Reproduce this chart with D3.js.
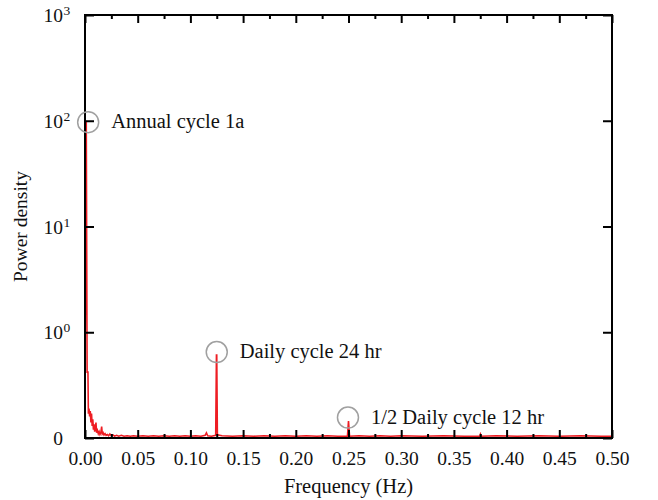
<!DOCTYPE html>
<html lang="en">

<head>
    <meta charset="UTF-8">
    <title>Power spectrum</title>
    <!-- D3.js library for drawing the chart -->
    <script src="https://cdnjs.cloudflare.com/ajax/libs/d3/7.8.5/d3.min.js"></script>
    <style>
        body {
            margin: 0;
            background: white;
        }

        svg text {
            font-family: "Liberation Serif", "Times New Roman", serif;
            fill: #111;
        }
    </style>
</head>

<body>
    <div id="chart"></div>

    <script>
        // Frequencies (Hz) of the spectrum
        var freqs = [
            0.0000, 0.0012, 0.0020, 0.0028, 0.0032, 0.0038, 0.0044, 0.0050, 0.0056, 0.0062,
            0.0068, 0.0074, 0.0080, 0.0086, 0.0092, 0.0098, 0.0104, 0.0110, 0.0118, 0.0126,
            0.0134, 0.0142, 0.0150, 0.0158, 0.0164, 0.0172, 0.0180, 0.0190, 0.0200, 0.0212,
            0.0224, 0.0236, 0.0250, 0.0265, 0.0280, 0.0300, 0.0320, 0.0345, 0.0370, 0.0400,
            0.0430, 0.0460, 0.0500, 0.0550, 0.0600, 0.0650, 0.0700, 0.0750, 0.0800, 0.0850,
            0.0900, 0.0950, 0.1000, 0.1050, 0.1100, 0.1140, 0.1152, 0.1164, 0.1200, 0.1240,
            0.1247, 0.1250, 0.1256, 0.1300, 0.1400, 0.1500, 0.1600, 0.1700, 0.1800, 0.1900,
            0.2000, 0.2100, 0.2200, 0.2300, 0.2400, 0.2490, 0.2500, 0.2510, 0.2600, 0.2700,
            0.2800, 0.2900, 0.3000, 0.3200, 0.3400, 0.3600, 0.3745, 0.3752, 0.3760, 0.3900,
            0.4100, 0.4300, 0.4500, 0.4700, 0.4900, 0.5000
        ];

        // Power density at each frequency
        var powers = [
            0.42, 100, 0.42, 0.42, 0.17, 0.19, 0.16, 0.18, 0.14, 0.17,
            0.13, 0.15, 0.12, 0.135, 0.115, 0.122, 0.14, 0.112, 0.118, 0.11,
            0.115, 0.108, 0.112, 0.128, 0.109, 0.112, 0.107, 0.11, 0.106, 0.108,
            0.105, 0.109, 0.105, 0.107, 0.104, 0.106, 0.104, 0.106, 0.104, 0.105,
            0.104, 0.105, 0.104, 0.105, 0.104, 0.105, 0.104, 0.105, 0.104, 0.105,
            0.104, 0.105, 0.104, 0.105, 0.104, 0.106, 0.112, 0.105, 0.104, 0.106,
            0.61, 0.61, 0.107, 0.105, 0.104, 0.105, 0.104, 0.105, 0.104, 0.105,
            0.104, 0.105, 0.104, 0.105, 0.104, 0.104, 0.145, 0.104, 0.105, 0.104,
            0.105, 0.104, 0.105, 0.104, 0.105, 0.104, 0.104, 0.109, 0.104, 0.105,
            0.104, 0.105, 0.104, 0.105, 0.104, 0.104
        ];

        // Tick marks of both axes
        var xMajorTicks = [0, 0.05, 0.10, 0.15, 0.20, 0.25, 0.30, 0.35, 0.40, 0.45, 0.50];
        var xMinorTicks = [0.025, 0.075, 0.125, 0.175, 0.225, 0.275, 0.325, 0.375, 0.425, 0.475];
        var yTickValues = [0.1, 1, 10, 100, 1000];
        var yTickExponents = [null, "0", "1", "2", "3"]; // null -> plain "0" label

        // Circled peaks with their notes
        var noteFreqs = [0.003, 0.125, 0.2495];
        var notePowers = [97, 0.65, 0.156];
        var noteLabels = ["Annual cycle 1a", "Daily cycle 24 hr", "1/2 Daily cycle 12 hr"];

        var width = 658, height = 500;
        var margin = { top: 15, right: 46, bottom: 62, left: 85 };
        var plotW = width - margin.left - margin.right;
        var plotH = height - margin.top - margin.bottom;

        var svg = d3.select("#chart").append("svg")
            .attr("width", width)
            .attr("height", height);

        var g = svg.append("g")
            .attr("transform", `translate(${margin.left},${margin.top})`);

        // Scales: linear frequency, log power (bottom of the axis is labelled 0)
        var x = d3.scaleLinear().domain([0, 0.5]).range([0, plotW]);
        var y = d3.scaleLog().domain([0.1, 1000]).range([plotH, 0]);

        // Spectrum line
        var line = d3.line()
            .x((d, i) => x(freqs[i]))
            .y((d, i) => y(powers[i]));

        g.append("path")
            .datum(powers)
            .attr("fill", "none")
            .attr("stroke", "#ee1d23")
            .attr("stroke-width", 1.6)
            .attr("d", line);

        // Inward-pointing ticks on all four sides
        function styleAxis(sel) {
            sel.select(".domain").remove();
            sel.selectAll(".tick line").attr("stroke", "#000").attr("stroke-width", 2);
        }

        var bottomAxis = g.append("g")
            .attr("transform", `translate(0,${plotH})`)
            .call(d3.axisBottom(x).tickValues(xMajorTicks).tickSize(-8).tickPadding(13)
                .tickFormat(d3.format(".2f")));
        styleAxis(bottomAxis);
        bottomAxis.selectAll("text")
            .attr("fill", "#111")
            .style("font-size", "19.5px")
            .style("font-family", "'Liberation Serif', serif");

        g.append("g")
            .attr("transform", `translate(0,${plotH})`)
            .call(d3.axisBottom(x).tickValues(xMinorTicks).tickSize(-4).tickFormat(""))
            .call(styleAxis);

        g.append("g")
            .call(d3.axisTop(x).tickValues(xMajorTicks).tickSize(-8).tickFormat(""))
            .call(styleAxis);

        g.append("g")
            .call(d3.axisTop(x).tickValues(xMinorTicks).tickSize(-4).tickFormat(""))
            .call(styleAxis);

        g.append("g")
            .call(d3.axisLeft(y).tickValues(yTickValues).tickSize(-9).tickFormat(""))
            .call(styleAxis);

        g.append("g")
            .attr("transform", `translate(${plotW},0)`)
            .call(d3.axisRight(y).tickValues(yTickValues).tickSize(-9).tickFormat(""))
            .call(styleAxis);

        // Plot frame
        g.append("rect")
            .attr("width", plotW)
            .attr("height", plotH)
            .attr("fill", "none")
            .attr("stroke", "#000")
            .attr("stroke-width", 2);

        // Y tick labels: "0" and powers of ten with superscripts
        yTickValues.forEach((v, i) => {
            var ty = y(v) + 7;
            var exp = yTickExponents[i];
            g.append("text")
                .attr("x", -22)
                .attr("y", ty)
                .attr("text-anchor", "end")
                .style("font-size", "19.5px")
                .text(exp === null ? "0" : "10");
            if (exp !== null) {
                g.append("text")
                    .attr("x", -21.5)
                    .attr("y", ty - 7)
                    .attr("text-anchor", "start")
                    .style("font-size", "13.5px")
                    .text(exp);
            }
        });

        // Axis titles
        svg.append("text")
            .attr("x", margin.left + plotW / 2)
            .attr("y", 493)
            .attr("text-anchor", "middle")
            .style("font-size", "20.5px")
            .text("Frequency (Hz)");

        svg.append("text")
            .attr("transform", `translate(27,${margin.top + plotH / 2}) rotate(-90)`)
            .attr("text-anchor", "middle")
            .style("font-size", "19.5px")
            .text("Power density");

        // Circles around the peaks and their notes
        noteLabels.forEach((label, i) => {
            var cx = x(noteFreqs[i]), cy = y(notePowers[i]);
            g.append("circle")
                .attr("cx", cx)
                .attr("cy", cy)
                .attr("r", 10.5)
                .attr("fill", "none")
                .attr("stroke", "#a0a0a0")
                .attr("stroke-width", 1.5);
            g.append("text")
                .attr("x", cx + 23)
                .attr("y", cy + 6)
                .style("font-size", "20.5px")
                .text(label);
        });
    </script>
</body>

</html>
